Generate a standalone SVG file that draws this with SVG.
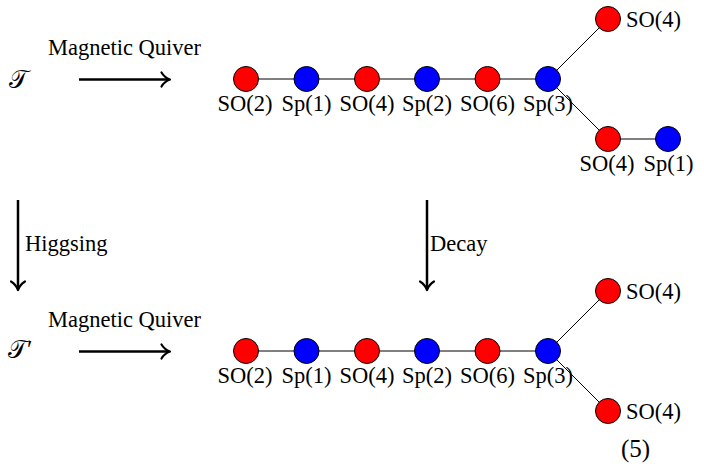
<svg xmlns="http://www.w3.org/2000/svg" width="704" height="466" viewBox="0 0 704 466">
<defs>
<style>
text{font-family:'Liberation Serif','DejaVu Serif',serif;font-size:22.5px;fill:#000}
.lbl{text-anchor:middle}
.cal{font-size:25px}
.so{fill:#ff0000;stroke:#000;stroke-width:1}
.sp{fill:#0000ff;stroke:#000;stroke-width:1}
.edge{stroke:#000;stroke-width:1;fill:none}
.arr{stroke:#000;stroke-width:2.5;fill:none}
.head{stroke:#000;stroke-width:2.2;fill:none;stroke-linecap:round;stroke-linejoin:round}
</style>
</defs>
<rect width="704" height="466" fill="#fff"/>

<g id="connectors">
  <line class="edge" x1="246" y1="79" x2="548" y2="79"/>
  <line class="edge" x1="548" y1="79" x2="608" y2="19"/>
  <line class="edge" x1="548" y1="79" x2="608" y2="139"/>
  <line class="edge" x1="608" y1="139" x2="668" y2="139"/>
  <line class="edge" x1="246" y1="351" x2="548" y2="351"/>
  <line class="edge" x1="548" y1="351" x2="608" y2="291"/>
  <line class="edge" x1="548" y1="351" x2="608" y2="411"/>
  <g id="arrow-mq-top">
    <line class="arr" x1="79" y1="79.5" x2="169" y2="79.5"/>
    <path class="head" d="M161.5,72.5 Q164.5,77.5 170,79.5 Q164.5,81.5 161.5,86.5"/>
  </g>
  <g id="arrow-mq-bottom">
    <line class="arr" x1="79" y1="351.5" x2="169" y2="351.5"/>
    <path class="head" d="M161.5,344.5 Q164.5,349.5 170,351.5 Q164.5,353.5 161.5,358.5"/>
  </g>
  <g id="arrow-higgsing">
    <line class="arr" x1="18" y1="200" x2="18" y2="289"/>
    <path class="head" d="M11,281.5 Q16,284.5 18,290 Q20,284.5 25,281.5"/>
  </g>
  <g id="arrow-decay">
    <line class="arr" x1="427" y1="200" x2="427" y2="289"/>
    <path class="head" d="M420,281.5 Q425,284.5 427,290 Q429,284.5 434,281.5"/>
  </g>
</g>

<g id="T"><text class="cal" x="9" y="88">𝒯</text></g>
<g id="Tprime"><text class="cal" x="8" y="358">𝒯<tspan>′</tspan></text></g>
<g id="label-mq-top"><text x="48" y="55">Magnetic Quiver</text></g>
<g id="label-mq-bottom"><text x="48" y="327">Magnetic Quiver</text></g>
<g id="label-higgsing"><text x="25" y="251">Higgsing</text></g>
<g id="label-decay"><text x="430" y="251">Decay</text></g>

<g id="t-so2"><circle class="so" cx="246" cy="79" r="12.5"/><text class="lbl" x="245" y="111">SO(2)</text></g>
<g id="t-sp1"><circle class="sp" cx="306.5" cy="79" r="12.5"/><text class="lbl" x="306.5" y="111">Sp(1)</text></g>
<g id="t-so4"><circle class="so" cx="367" cy="79" r="12.5"/><text class="lbl" x="367" y="111">SO(4)</text></g>
<g id="t-sp2"><circle class="sp" cx="427" cy="79" r="12.5"/><text class="lbl" x="427" y="111">Sp(2)</text></g>
<g id="t-so6"><circle class="so" cx="487.5" cy="79" r="12.5"/><text class="lbl" x="487.5" y="111">SO(6)</text></g>
<g id="t-sp3"><circle class="sp" cx="548" cy="79" r="12.5"/><text class="lbl" x="548" y="111">Sp(3)</text></g>
<g id="t-so4-up"><circle class="so" cx="608" cy="19" r="12.5"/><text x="626" y="27">SO(4)</text></g>
<g id="t-so4-down"><circle class="so" cx="608" cy="139" r="12.5"/><text class="lbl" x="607" y="171">SO(4)</text></g>
<g id="t-sp1-down"><circle class="sp" cx="668" cy="139" r="12.5"/><text class="lbl" x="668.5" y="171">Sp(1)</text></g>

<g id="b-so2"><circle class="so" cx="246" cy="351" r="12.5"/><text class="lbl" x="245" y="383">SO(2)</text></g>
<g id="b-sp1"><circle class="sp" cx="306.5" cy="351" r="12.5"/><text class="lbl" x="306.5" y="383">Sp(1)</text></g>
<g id="b-so4"><circle class="so" cx="367" cy="351" r="12.5"/><text class="lbl" x="367" y="383">SO(4)</text></g>
<g id="b-sp2"><circle class="sp" cx="427" cy="351" r="12.5"/><text class="lbl" x="427" y="383">Sp(2)</text></g>
<g id="b-so6"><circle class="so" cx="487.5" cy="351" r="12.5"/><text class="lbl" x="487.5" y="383">SO(6)</text></g>
<g id="b-sp3"><circle class="sp" cx="548" cy="351" r="12.5"/><text class="lbl" x="548" y="383">Sp(3)</text></g>
<g id="b-so4-up"><circle class="so" cx="608" cy="291" r="12.5"/><text x="626" y="299">SO(4)</text></g>
<g id="b-so4-down"><circle class="so" cx="608" cy="411" r="12.5"/><text x="626" y="419">SO(4)</text></g>

<g id="eqnum"><text x="621" y="457" style="font-size:25px">(5)</text></g>
</svg>
